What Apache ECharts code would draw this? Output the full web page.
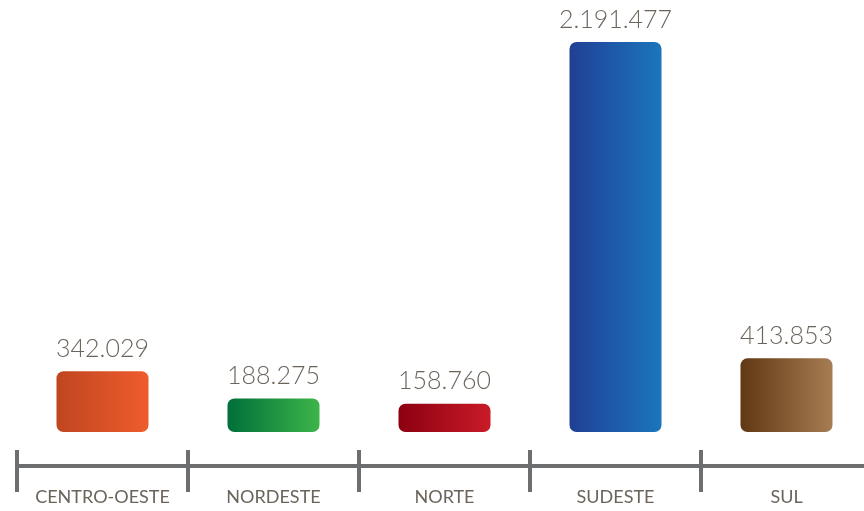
<!DOCTYPE html>
<html>
<head>
<meta charset="utf-8">
<script src="https://cdn.jsdelivr.net/npm/echarts@6/dist/echarts.min.js"></script>
<style>
  html, body { margin: 0; padding: 0; background: #fff; }
  #chart { width: 864px; height: 511px; }
</style>
</head>
<body>
<div id="chart"></div>
<script>
// regiões e totais
var regioes = ['CENTRO-OESTE', 'NORDESTE', 'NORTE', 'SUDESTE', 'SUL'];
var totais = [342029, 188275, 158760, 2191477, 413853];

// gradiente esquerda -> direita de cada barra
var cores = [
  ['#bf4620', '#ef5c2c'],
  ['#006f3a', '#3db54a'],
  ['#8c0011', '#c91b27'],
  ['#203f95', '#1b76bc'],
  ['#603813', '#a67c52']
];

function formatarBR(v) {
  return String(v).replace(/\B(?=(\d{3})+(?!\d))/g, '.');
}

var myChart = echarts.init(document.getElementById('chart'));

var dados = totais.map(function (v, i) {
  return {
    value: v,
    itemStyle: {
      color: new echarts.graphic.LinearGradient(0, 0, 1, 0, [
        { offset: 0, color: cores[i][0] },
        { offset: 1, color: cores[i][1] }
      ]),
      borderRadius: 7
    }
  };
});

var option = {
  backgroundColor: '#fff',
  animation: false,
  grid: {
    left: 17,
    right: -8,
    top: 42,
    bottom: 79,
    outerBoundsMode: 'none'
  },
  xAxis: [{
    type: 'category',
    data: regioes,
    offset: 34,
    axisLine: {
      show: true,
      onZero: false,
      lineStyle: { color: '#6d6e70', width: 4 }
    },
    axisTick: {
      show: true,
      interval: 0,
      length: 26,
      lineStyle: { color: '#6d6e70', width: 4 }
    },
    axisLabel: {
      interval: 0,
      hideOverlap: false,
      color: '#6b645b',
      fontFamily: 'Lato',
      fontSize: 18,
      margin: 22
    }
  }, {
    // só os tracinhos para cima
    type: 'category',
    data: regioes,
    position: 'bottom',
    offset: 34,
    axisLine: { show: false, onZero: false },
    axisTick: {
      show: true,
      interval: 0,
      inside: true,
      length: 16,
      lineStyle: { color: '#6d6e70', width: 4 }
    },
    axisLabel: { show: false }
  }],
  yAxis: {
    type: 'value',
    min: 0,
    max: 2191477,
    show: false,
    splitLine: { show: false }
  },
  series: [{
    type: 'bar',
    barWidth: 92,
    data: dados,
    label: {
      show: true,
      position: 'top',
      distance: 10,
      color: '#6b645b',
      fontFamily: 'Lato',
      fontWeight: 300,
      fontSize: 25,
      formatter: function (p) { return formatarBR(p.value); }
    }
  }]
};

myChart.setOption(option);
window.addEventListener('resize', function () {
  myChart.resize();
});
</script>
</body>
</html>
